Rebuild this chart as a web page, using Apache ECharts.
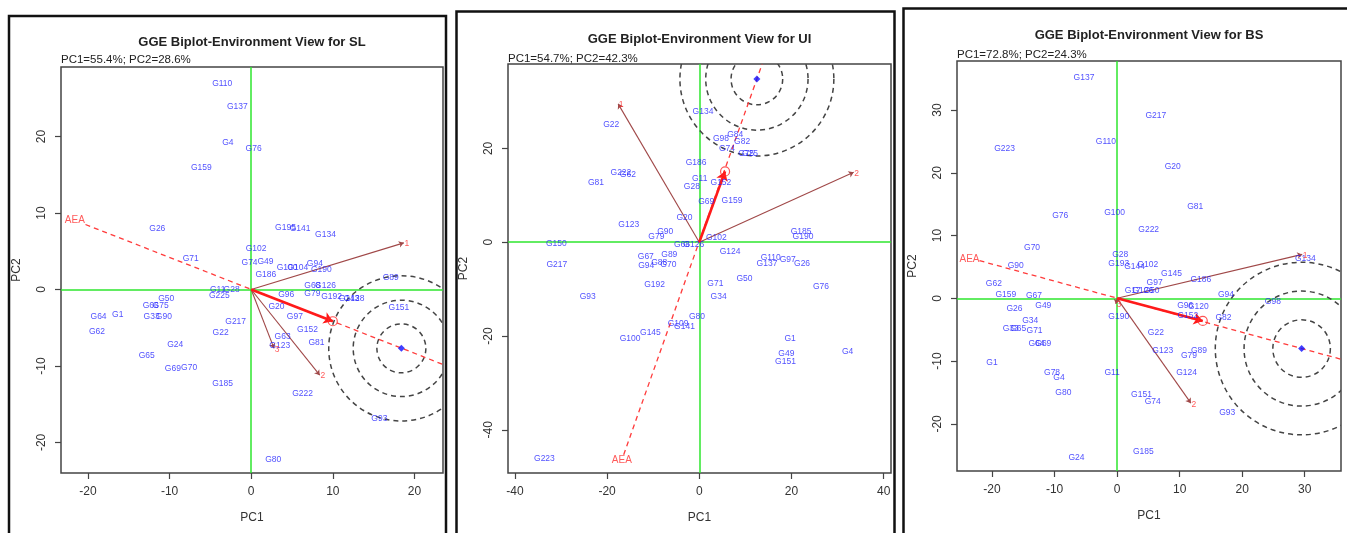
<!DOCTYPE html>
<html>
<head>
<meta charset="utf-8">
<title>GGE Biplot - Environment View</title>
<script src="https://cdn.jsdelivr.net/npm/echarts@6/dist/echarts.min.js"></script>
<style>
  html, body { margin: 0; padding: 0; background: #fff; }
  #chart { width: 1347px; height: 533px; }
</style>
</head>
<body>
<div id="chart"></div>
<script>
// ---------- SL ----------
const slNames = ["G110","G137","G4","G76","G159","G26","G195","G141","G134","G102","G71","G74","G49","G94",
  "G186","G100","G104","G190","G68","G126","G96","G79","G192","G143","G128","G89","G151","G20","G97","G152",
  "G81","G63","G123","G222","G93","G80","G185","G69","G70","G65","G24","G22","G217","G225","G11","G28",
  "G50","G66","G75","G33","G90","G64","G1","G62"];
const slPC1 = [-3.55,-1.7,-2.85,0.3,-6.1,-11.5,4.2,6.0,9.1,0.6,-7.4,-0.2,1.75,7.8,
  1.8,4.4,5.7,8.6,7.5,9.1,4.3,7.5,9.85,12.0,12.6,17.1,18.1,3.1,5.35,6.9,
  8.0,3.85,3.5,6.3,15.7,2.7,-3.5,-9.6,-7.6,-12.8,-9.3,-3.75,-1.9,-3.9,-4.1,-2.4,
  -10.4,-12.3,-11.1,-12.2,-10.7,-18.7,-16.35,-18.9];
const slPC2 = [26.9,23.9,19.2,18.4,15.9,8.0,8.1,7.9,7.2,5.3,4.0,3.5,3.6,3.4,
  1.9,2.9,2.8,2.6,0.5,0.5,-0.65,-0.6,-0.9,-1.2,-1.2,1.5,-2.4,-2.2,-3.6,-5.2,
  -7.0,-6.2,-7.3,-13.6,-16.9,-22.3,-12.3,-10.3,-10.2,-8.7,-7.2,-5.6,-4.2,-0.8,0.0,0.0,
  -1.2,-2.05,-2.05,-3.6,-3.6,-3.5,-3.3,-5.45];
const slEnvNames = ["1","2","3"];
const slEnvPC1 = [18.7, 8.4, 2.8];
const slEnvPC2 = [6.1, -11.2, -7.7];
const slAverageEnv = [10.0, -4.15];
const slIdealEnv = [18.4, -7.7];
const slAEALine = [[-20.3, 8.5], [23.5, -9.8]];
const slAEALabel = [-21.6, 9.0];
const slRings = [3.0, 5.9, 8.9];
const slXTicks = [-20, -10, 0, 10, 20];
const slYTicks = [-20, -10, 0, 10, 20];

// ---------- UI ----------
const uiNames = ["G134","G22","G98","G84","G82","G74","G75","G25","G186","G222","G62","G81","G11","G28","G152",
  "G69","G159","G20","G123","G90","G79","G102","G68","G126","G185","G190","G150","G124","G217","G67","G89",
  "G94","G88","G70","G110","G137","G97","G26","G192","G93","G71","G50","G76","G34","G80","G109","G141",
  "G145","G100","G1","G49","G151","G4","G223"];
const uiPC1 = [0.8,-19.1,4.7,7.8,9.3,6.0,10.2,11.0,-0.7,-17.0,-15.5,-22.4,0.1,-1.6,4.7,
  1.5,7.1,-3.2,-15.3,-7.4,-9.3,3.7,-3.75,-1.2,22.1,22.5,-31.0,6.7,-30.9,-11.6,-6.5,
  -11.5,-8.7,-6.7,15.5,14.7,19.2,22.3,-9.7,-24.2,3.5,9.8,26.4,4.2,-0.5,-4.6,-3.2,
  -10.6,-15.0,19.7,18.9,18.7,32.2,-33.6];
const uiPC2 = [27.9,25.0,22.1,22.9,21.4,19.9,18.9,18.8,17.0,14.9,14.4,12.8,13.6,11.9,12.7,
  8.6,8.8,5.3,3.7,2.2,1.2,0.9,-0.5,-0.5,2.3,1.1,-0.3,-2.1,-4.8,-3.0,-2.6,
  -4.9,-4.4,-4.75,-3.3,-4.6,-3.8,-4.5,-9.0,-11.6,-8.8,-7.7,-9.4,-11.6,-15.8,-17.4,-17.9,
  -19.2,-20.5,-20.5,-23.8,-25.4,-23.4,-46.2];
const uiEnvNames = ["1","2"];
const uiEnvPC1 = [-17.6, 33.5];
const uiEnvPC2 = [29.5, 14.9];
const uiAverageEnv = [5.6, 15.1];
const uiIdealEnv = [12.5, 34.8];
const uiAEALine = [[-16.4, -45.3], [13.65, 38.0]];
const uiAEALabel = [-16.8, -46.4];
const uiRings = [5.6, 11.1, 16.7];
const uiXTicks = [-40, -20, 0, 20, 40];
const uiYTicks = [-40, -20, 0, 20];

// ---------- BS ----------
const bsNames = ["G137","G217","G223","G110","G20","G81","G76","G100","G222","G70","G28","G90","G193","G144",
  "G102","G145","G186","G134","G97","G17","G126","G50","G62","G159","G67","G94","G98","G26","G49","G34",
  "G190","G96","G120","G152","G82","G33","G65","G71","G64","G69","G22","G123","G89","G79","G1","G11",
  "G124","G78","G4","G80","G151","G74","G93","G185","G24"];
const bsPC1 = [-5.3,6.2,-18.0,-1.8,8.9,12.5,-9.1,-0.4,5.05,-13.6,0.5,-16.2,0.26,2.8,
  4.9,8.7,13.4,30.1,6.0,2.5,4.1,5.5,-19.7,-17.8,-13.3,17.4,24.9,-16.4,-11.8,-13.9,
  0.26,10.9,13.0,11.3,17.0,-17.0,-15.8,-13.2,-12.9,-11.8,6.2,7.3,13.1,11.5,-20.0,-0.8,
  11.1,-10.4,-9.3,-8.6,3.9,5.7,17.6,4.2,-6.5];
const bsPC2 = [35.2,29.1,23.8,24.9,20.9,14.6,13.1,13.7,10.9,8.1,6.9,5.2,5.5,5.0,
  5.3,4.0,2.9,6.3,2.5,1.3,1.3,1.3,2.4,0.6,0.5,0.6,-0.5,-1.7,-1.2,-3.5,
  -2.9,-1.1,-1.3,-2.8,-3.0,-4.9,-4.9,-5.2,-7.2,-7.2,-5.5,-8.4,-8.4,-9.2,-10.3,-11.8,
  -11.9,-11.9,-12.7,-15.0,-15.3,-16.4,-18.2,-24.4,-25.3];
const bsEnvNames = ["1","2","3"];
const bsEnvPC1 = [29.6, 11.8, -0.2];
const bsEnvPC2 = [7.0, -16.7, -0.9];
const bsAverageEnv = [13.7, -3.6];
const bsIdealEnv = [29.5, -8.0];
const bsAEALine = [[-22.0, 6.0], [35.8, -9.7]];
const bsAEALabel = [-23.6, 6.3];
const bsRings = [4.6, 9.2, 13.8];
const bsXTicks = [-20, -10, 0, 10, 20, 30];
const bsYTicks = [-20, -10, 0, 10, 20, 30];

const FONT = "'Liberation Sans', Arial, sans-serif";

const panels = [
  { title: "GGE Biplot-Environment View for SL", sub: "PC1=55.4%; PC2=28.6%",
    names: slNames, pc1: slPC1, pc2: slPC2, envNames: slEnvNames, envPC1: slEnvPC1, envPC2: slEnvPC2,
    avg: slAverageEnv, ideal: slIdealEnv, aea: slAEALine, aeaLabel: slAEALabel, rings: slRings,
    xTicks: slXTicks, yTicks: slYTicks,
    xMin: -23.3, xMax: 23.5, yMin: -24.0, yMax: 29.1,
    grid: { left: 61, top: 67, width: 382, height: 406 }, titleY: 36, subY: 54,
    frame: { x: 9, y: 16, width: 437, height: 600 } },
  { title: "GGE Biplot-Environment View for UI", sub: "PC1=54.7%; PC2=42.3%",
    names: uiNames, pc1: uiPC1, pc2: uiPC2, envNames: uiEnvNames, envPC1: uiEnvPC1, envPC2: uiEnvPC2,
    avg: uiAverageEnv, ideal: uiIdealEnv, aea: uiAEALine, aeaLabel: uiAEALabel, rings: uiRings,
    xTicks: uiXTicks, yTicks: uiYTicks,
    xMin: -41.5, xMax: 41.6, yMin: -49.2, yMax: 38.0,
    grid: { left: 508, top: 64, width: 383, height: 409 }, titleY: 33, subY: 53,
    frame: { x: 456.5, y: 11.5, width: 438, height: 600 } },
  { title: "GGE Biplot-Environment View for BS", sub: "PC1=72.8%; PC2=24.3%",
    names: bsNames, pc1: bsPC1, pc2: bsPC2, envNames: bsEnvNames, envPC1: bsEnvPC1, envPC2: bsEnvPC2,
    avg: bsAverageEnv, ideal: bsIdealEnv, aea: bsAEALine, aeaLabel: bsAEALabel, rings: bsRings,
    xTicks: bsXTicks, yTicks: bsYTicks,
    xMin: -25.6, xMax: 35.8, yMin: -27.5, yMax: 37.8,
    grid: { left: 957, top: 61, width: 384, height: 410 }, titleY: 29, subY: 49,
    frame: { x: 903.5, y: 8.5, width: 460, height: 600 } }
];

const titles = [], grids = [], xAxes = [], yAxes = [], series = [], graphics = [];

panels.forEach(function (p, i) {
  const g = p.grid;
  titles.push({
    text: p.title, left: g.left + g.width / 2, top: p.titleY, textAlign: 'center', padding: 0,
    textStyle: { fontFamily: FONT, fontSize: 13, fontWeight: 'bold', color: '#222' }
  });
  titles.push({
    text: p.sub, left: g.left, top: p.subY, padding: 0,
    textStyle: { fontFamily: FONT, fontSize: 11.5, fontWeight: 'normal', color: '#222' }
  });
  graphics.push({
    type: 'rect', shape: p.frame, silent: true,
    style: { fill: 'none', stroke: '#111', lineWidth: 2.5 }
  });
  grids.push({ left: g.left, top: g.top, width: g.width, height: g.height,
    show: true, borderColor: '#444', borderWidth: 1.5, backgroundColor: 'transparent' });

  const axisCommon = {
    gridIndex: i, type: 'value', nameLocation: 'middle',
    nameTextStyle: { fontFamily: FONT, fontSize: 12, color: '#333' },
    axisLine: { show: false, onZero: false },
    splitLine: { show: false },
    axisTick: { show: true, length: 6, lineStyle: { color: '#444', width: 1.2 } }
  };
  xAxes.push(Object.assign({}, axisCommon, {
    min: p.xMin, max: p.xMax, name: 'PC1', nameGap: 39,
    axisTick: Object.assign({}, axisCommon.axisTick, { customValues: p.xTicks }),
    axisLabel: { customValues: p.xTicks, margin: 13, fontFamily: FONT, fontSize: 12, color: '#333' }
  }));
  yAxes.push(Object.assign({}, axisCommon, {
    min: p.yMin, max: p.yMax, name: 'PC2', nameGap: 38,
    axisTick: Object.assign({}, axisCommon.axisTick, { customValues: p.yTicks }),
    axisLabel: { customValues: p.yTicks, margin: 13, rotate: 90, fontFamily: FONT, fontSize: 12, color: '#333' }
  }));

  const ax = { xAxisIndex: i, yAxisIndex: i };

  // green reference lines at 0 and the AEA dashed line
  series.push(Object.assign({
    type: 'line', data: p.aea, symbol: 'none', z: 3, silent: true,
    lineStyle: { color: '#ff3b3b', width: 1.3, type: [5, 4] },
    markLine: {
      silent: true, symbol: 'none', label: { show: false }, z: 1,
      lineStyle: { color: '#2ee62e', width: 1.5, type: 'solid' },
      data: [{ xAxis: 0 }, { yAxis: 0 }]
    }
  }, ax));

  // concentric rings round the ideal environment
  series.push(Object.assign({
    type: 'custom', z: 2, clip: true, silent: true,
    data: p.rings.map(function (r) { return [p.ideal[0], p.ideal[1], r]; }),
    renderItem: function (params, api) {
      const c = api.coord([api.value(0), api.value(1)]);
      const r = api.size([api.value(2), 0])[0];
      return { type: 'circle', shape: { cx: c[0], cy: c[1], r: r },
        style: { fill: 'none', stroke: '#444', lineWidth: 1.5, lineDash: [5, 4] } };
    }
  }, ax));

  // environment vectors
  series.push(Object.assign({
    type: 'lines', coordinateSystem: 'cartesian2d', z: 4, silent: true,
    symbol: ['none', 'arrow'], symbolSize: 5,
    lineStyle: { color: '#a04848', width: 1.1, opacity: 1 },
    data: p.envPC1.map(function (x, k) { return { coords: [[0, 0], [x, p.envPC2[k]]] }; })
  }, ax));

  // average environment arrow
  series.push(Object.assign({
    type: 'lines', coordinateSystem: 'cartesian2d', z: 5, silent: true,
    symbol: ['none', 'arrow'], symbolSize: 9,
    lineStyle: { color: '#ff1a1a', width: 2.6, opacity: 1 },
    data: [{ coords: [[0, 0], p.avg] }]
  }, ax));

  series.push(Object.assign({
    type: 'scatter', z: 5, silent: true, symbol: 'circle', symbolSize: 9,
    itemStyle: { color: 'rgba(0,0,0,0)', borderColor: '#ff2a2a', borderWidth: 1.2 },
    data: [p.avg]
  }, ax));
  series.push(Object.assign({
    type: 'scatter', z: 5, silent: true, symbol: 'diamond', symbolSize: 7,
    itemStyle: { color: '#1010ff' },
    data: [p.ideal]
  }, ax));

  // genotype labels
  series.push(Object.assign({
    type: 'scatter', z: 6, silent: true, symbolSize: 0,
    data: p.names.map(function (n, k) { return [p.pc1[k], p.pc2[k], n]; }),
    label: { show: true, position: 'inside', formatter: function (d) { return d.value[2]; },
      fontFamily: FONT, fontSize: 8.5, color: '#1e1eff' }
  }, ax));

  // environment labels and AEA label
  series.push(Object.assign({
    type: 'scatter', z: 6, silent: true, symbolSize: 0,
    data: p.envNames.map(function (n, k) { return [p.envPC1[k], p.envPC2[k], n]; }),
    label: { show: true, position: 'inside', offset: [3, 1], formatter: function (d) { return d.value[2]; },
      fontFamily: FONT, fontSize: 8.5, color: '#ff3030' }
  }, ax));
  series.push(Object.assign({
    type: 'scatter', z: 6, silent: true, symbolSize: 0,
    data: [[p.aeaLabel[0], p.aeaLabel[1], 'AEA']],
    label: { show: true, position: 'inside', formatter: 'AEA',
      fontFamily: FONT, fontSize: 10, color: '#ff3030' }
  }, ax));
});

const chart = echarts.init(document.getElementById('chart'), null, { renderer: 'canvas' });
chart.setOption({
  backgroundColor: '#fff',
  animation: false,
  title: titles,
  grid: grids,
  xAxis: xAxes,
  yAxis: yAxes,
  series: series,
  graphic: graphics
});
</script>
</body>
</html>
